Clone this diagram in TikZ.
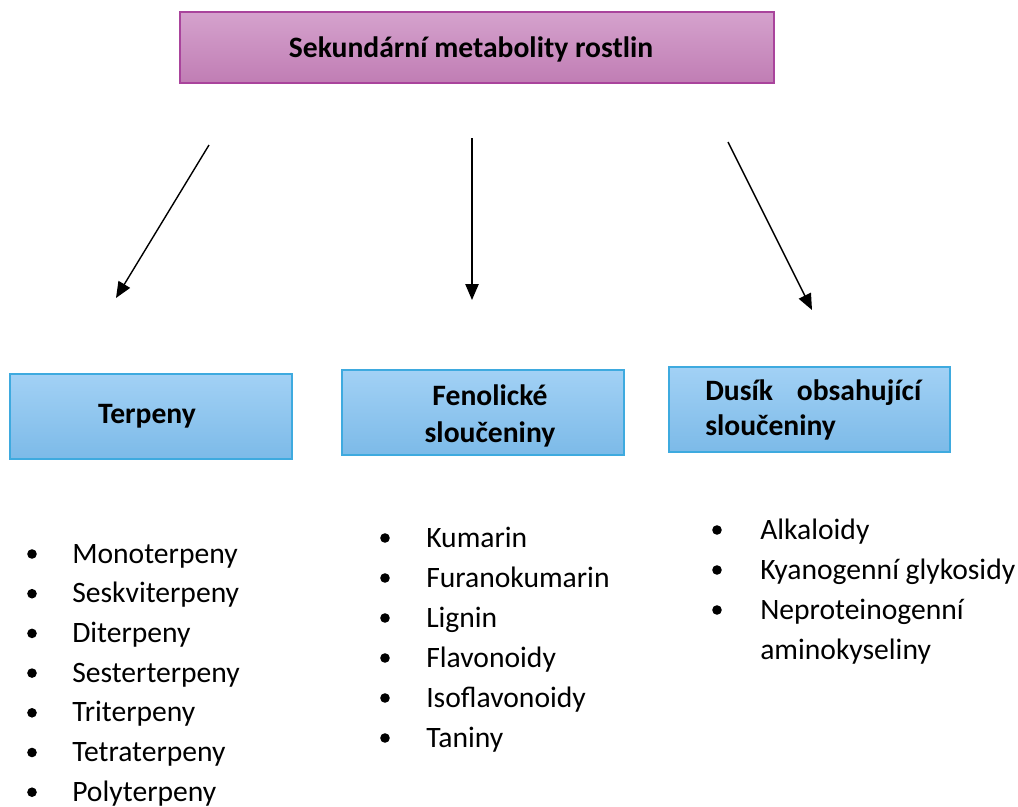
\documentclass[tikz,border=0pt]{standalone}
\usepackage{fontspec}
\setmainfont{Carlito}
\usetikzlibrary{arrows.meta,fit}
\definecolor{pinktop}{HTML}{D5A2CD}
\definecolor{pinkbot}{HTML}{C07DB4}
\definecolor{pinkline}{HTML}{A9449C}
\definecolor{bluetop}{HTML}{A2D1F5}
\definecolor{bluebot}{HTML}{7CBAE8}
\definecolor{blueline}{HTML}{3EAADF}
\tikzset{
  pinkbox/.style={draw=pinkline, line width=1pt, top color=pinktop, bottom color=pinkbot, inner sep=0pt},
  bluebox/.style={draw=blueline, line width=1pt, top color=bluetop, bottom color=bluebot, inner sep=0pt},
  title/.style={font=\fontsize{22.2}{27}\selectfont\bfseries},
  item/.style={font=\fontsize{22.2}{27}\selectfont, anchor=base west, inner sep=0pt},
  bul/.style={circle, fill=black, inner sep=0pt, minimum size=7.2pt},
  arr/.style={line width=1.05pt, -{Triangle[length=12pt,width=10pt]}}
}
\begin{document}
\begin{tikzpicture}[x=0.75pt,y=-0.75pt]
\useasboundingbox (0,0) rectangle (1018,807);
% boxes
\node[pinkbox, fit={(180,12) (774,83)}] (top) {};
\node[title] (toptext) at (471,49) {Sekundární metabolity rostlin};
\node[bluebox, fit={(10,374) (292,459)}] (terp) {};
\node[title] (terptext) at (147,416) {Terpeny};
\node[bluebox, fit={(342,370) (624,455)}] (fen) {};
\node[title, anchor=base] (fentext1) at (490,405) {Fenolické};
\node[title, anchor=base] (fentext2) at (490,442) {sloučeniny};
\node[bluebox, fit={(669,367) (950,452)}] (dus) {};
\node[title, anchor=base west, inner sep=0pt] (dustext1) at (705,400) {\makebox[162pt][s]{Dusík\hfill obsahující}};
\node[title, anchor=base west, inner sep=0pt] (dustext2) at (705,435) {sloučeniny};
% arrows
\coordinate (a1s) at (209,145); \coordinate (a1e) at (116,298);
\coordinate (a2s) at (472,138); \coordinate (a2e) at (472,300);
\coordinate (a3s) at (728,142); \coordinate (a3e) at (812,310);
\draw[arr] (a1s) -- (a1e);
\draw[arr] (a2s) -- (a2e);
\draw[arr] (a3s) -- (a3e);
% lists
\foreach \t [count=\i from 0] in {Monoterpeny,Seskviterpeny,Diterpeny,Sesterterpeny,Triterpeny,Tetraterpeny,Polyterpeny}{
  \node[bul] (tb\i) at (32,{554+39.7*\i}) {};
  \node[item] (ti\i) at (72,{563+39.7*\i}) {\t};
}
\foreach \t [count=\i from 0] in {Kumarin,Furanokumarin,Lignin,Flavonoidy,Isoflavonoidy,Taniny}{
  \node[bul] (fb\i) at (385,{538+40*\i}) {};
  \node[item] (fi\i) at (426,{547+40*\i}) {\t};
}
\foreach \t [count=\i from 0] in {Alkaloidy,Kyanogenní glykosidy,Neproteinogenní}{
  \node[bul] (db\i) at (717,{530+40*\i}) {};
  \node[item] (di\i) at (760,{539+40*\i}) {\t};
}
\node[item] (di3) at (760,659) {aminokyseliny};
\end{tikzpicture}
\end{document}
